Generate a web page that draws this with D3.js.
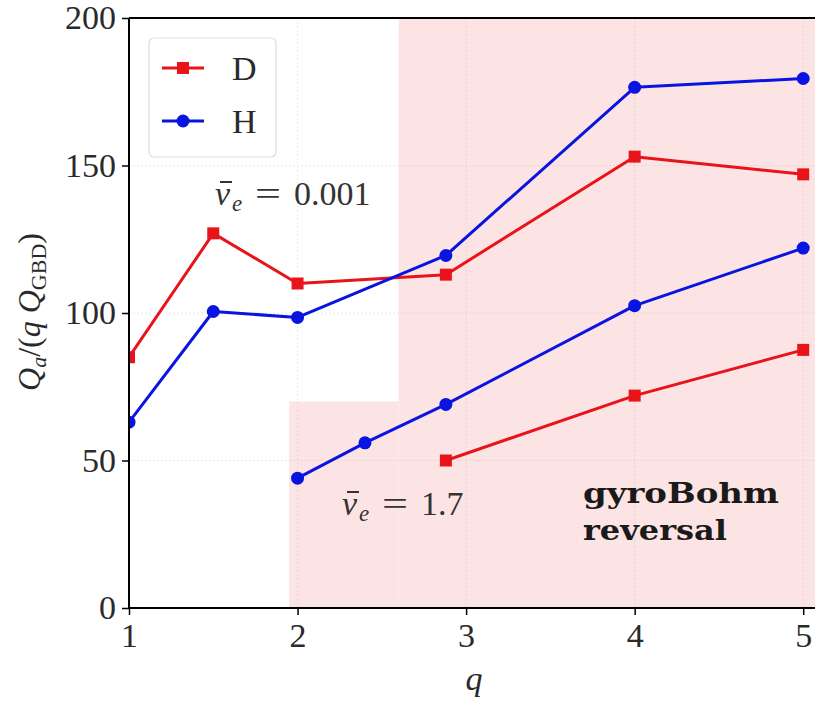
<!DOCTYPE html>
<html><head><meta charset="utf-8">
<script src="https://cdn.jsdelivr.net/npm/d3@7"></script>
<style>body{margin:0;background:#fff}svg{display:block}</style>
</head><body>
<svg id="c" width="815" height="704"></svg>
<script>
// ---- data ----
const qHigh = [1, 1.5, 2, 2.88, 4, 5];
const D_high = [85, 127, 110, 113, 153, 147];
const H_high = [63, 100.5, 98.5, 119.5, 176.5, 179.5];
const qLowH = [2, 2.4, 2.88, 4, 5];
const H_low = [44, 56, 69, 102.5, 122];
const qLowD = [2.88, 4, 5];
const D_low = [50, 72, 87.5];
const xTicks = [1, 2, 3, 4, 5];
const yTicks = [0, 50, 100, 150, 200];
const shade1 = {x0: 2.6, x1: 5.07, y0: 0, y1: 200};
const shade2 = {x0: 1.95, x1: 2.6, y0: 0, y1: 70};

const svg = d3.select("#c");
const L = 129, R = 815, T = 18, B = 608;
const x = d3.scaleLinear().domain([1, 5.07]).range([L, R]);
const y = d3.scaleLinear().domain([0, 200]).range([B, T]);
const serif = "'Liberation Serif','DejaVu Serif',serif";

svg.append("clipPath").attr("id","clip").append("rect")
  .attr("x", L).attr("y", T).attr("width", R-L).attr("height", B-T);

// shading
[shade1, shade2].forEach(s => {
  svg.append("rect").attr("x", x(s.x0)).attr("y", y(s.y1))
    .attr("width", x(s.x1)-x(s.x0)).attr("height", y(s.y0)-y(s.y1))
    .attr("fill", "#fde4e4").attr("clip-path","url(#clip)");
});

// grid
const g = svg.append("g").attr("stroke", "#b0b0b0").attr("stroke-opacity", 0.25)
  .attr("stroke-dasharray","2,2").attr("stroke-width",1);
xTicks.forEach(t => g.append("line").attr("x1", x(t)).attr("x2", x(t)).attr("y1", T).attr("y2", B));
yTicks.forEach(t => g.append("line").attr("x1", L).attr("x2", R).attr("y1", y(t)).attr("y2", y(t)));

// series
const line = d3.line().x(d => x(d[0])).y(d => y(d[1]));
const series = [
  {q: qHigh, v: D_high, c: "#e8141a", m: "sq"},
  {q: qHigh, v: H_high, c: "#0a14e0", m: "ci"},
  {q: qLowH, v: H_low, c: "#0a14e0", m: "ci"},
  {q: qLowD, v: D_low, c: "#e8141a", m: "sq"}
];
const pg = svg.append("g").attr("clip-path","url(#clip)");
series.forEach(s => {
  const pts = s.q.map((q,i) => [q, s.v[i]]);
  pg.append("path").attr("d", line(pts)).attr("fill","none")
    .attr("stroke", s.c).attr("stroke-width", 3).attr("stroke-linejoin","round");
  pts.forEach(p => {
    if (s.m === "sq") pg.append("rect").attr("x", x(p[0])-6).attr("y", y(p[1])-6)
      .attr("width",12).attr("height",12).attr("fill", s.c);
    else pg.append("circle").attr("cx", x(p[0])).attr("cy", y(p[1])).attr("r",6.5).attr("fill", s.c);
  });
});

// axes
const xa = svg.append("g").attr("transform",`translate(0,${B})`)
  .call(d3.axisBottom(x).tickValues(xTicks).tickFormat(d3.format("d")).tickSize(7).tickPadding(8));
const ya = svg.append("g").attr("transform",`translate(${L},0)`)
  .call(d3.axisLeft(y).tickValues(yTicks).tickSize(7).tickPadding(6));
[xa, ya].forEach(a => {
  a.select(".domain").remove();
  a.selectAll("line").attr("stroke","#000").attr("stroke-width",1.5);
  a.selectAll("text").attr("font-family", serif).attr("font-size", 34).attr("fill","#2a2a2a");
});
// spines
svg.append("line").attr("x1",L).attr("x2",L).attr("y1",T).attr("y2",B).attr("stroke","#000").attr("stroke-width",2);
svg.append("line").attr("x1",L).attr("x2",R).attr("y1",B).attr("y2",B).attr("stroke","#000").attr("stroke-width",2);
svg.append("line").attr("x1",L).attr("x2",R).attr("y1",T).attr("y2",T).attr("stroke","#000").attr("stroke-width",2);

// legend
const lg = svg.append("g");
lg.append("rect").attr("x",149).attr("y",38).attr("width",127).attr("height",119).attr("rx",5)
  .attr("fill","#fff").attr("fill-opacity",0.8).attr("stroke","#ddd").attr("stroke-width",1.2);
[{n:"D", c:"#e8141a", m:"sq", yy:68},{n:"H", c:"#0a14e0", m:"ci", yy:121}].forEach(it => {
  lg.append("line").attr("x1",162).attr("x2",204).attr("y1",it.yy).attr("y2",it.yy)
    .attr("stroke",it.c).attr("stroke-width",3);
  if (it.m==="sq") lg.append("rect").attr("x",177).attr("y",it.yy-6).attr("width",12).attr("height",12).attr("fill",it.c);
  else lg.append("circle").attr("cx",183).attr("cy",it.yy).attr("r",6.5).attr("fill",it.c);
  lg.append("text").attr("x",232).attr("y",it.yy+12).text(it.n)
    .attr("font-family",serif).attr("font-size",34).attr("fill","#2a2a2a");
});

// annotations
function nuLabel(xp, yp, val) {
  const grp = svg.append("g").attr("font-family",serif).attr("fill","#333");
  grp.append("text").attr("x",xp).attr("y",yp).attr("font-size",34).attr("font-style","italic").text("ν");
  grp.append("line").attr("x1",xp+5).attr("x2",xp+17).attr("y1",yp-23).attr("y2",yp-23)
    .attr("stroke","#333").attr("stroke-width",2);
  grp.append("text").attr("x",xp+17).attr("y",yp+6).attr("font-size",23).attr("font-style","italic").text("e");
  grp.append("text").attr("x",xp+40).attr("y",yp).attr("font-size",34)
    .attr("textLength",26).attr("lengthAdjust","spacingAndGlyphs").text("=");
  grp.append("text").attr("x",xp+79).attr("y",yp).attr("font-size",34).text(val);
}
nuLabel(215, 205, "0.001");
nuLabel(342, 515, "1.7");

const bold = "'DejaVu Serif','Liberation Serif',serif";
svg.append("text").attr("x",583).attr("y",503).attr("font-family",bold).attr("font-weight","bold")
  .attr("font-size",27).attr("fill","#1a1a1a").attr("textLength",196).attr("lengthAdjust","spacingAndGlyphs")
  .text("gyroBohm");
svg.append("text").attr("x",583).attr("y",540).attr("font-family",bold).attr("font-weight","bold")
  .attr("font-size",27).attr("fill","#1a1a1a").attr("textLength",144).attr("lengthAdjust","spacingAndGlyphs")
  .text("reversal");

// axis labels
svg.append("text").attr("x",474).attr("y",690).attr("text-anchor","middle")
  .attr("font-family",serif).attr("font-style","italic").attr("font-size",34).attr("fill","#2a2a2a").text("q");
const yl = svg.append("text").attr("transform","translate(40,312) rotate(-90)").attr("text-anchor","middle")
  .attr("font-family",serif).attr("font-size",32).attr("fill","#2a2a2a");
yl.append("tspan").attr("font-style","italic").text("Q");
yl.append("tspan").attr("font-style","italic").attr("font-size",22).attr("dy",6).text("a");
yl.append("tspan").attr("dy",-6).text("/(");
yl.append("tspan").attr("font-style","italic").text("q Q");
yl.append("tspan").attr("font-size",22).attr("dy",6).text("GBD");
yl.append("tspan").attr("dy",-6).text(")");
</script>
</body></html>
